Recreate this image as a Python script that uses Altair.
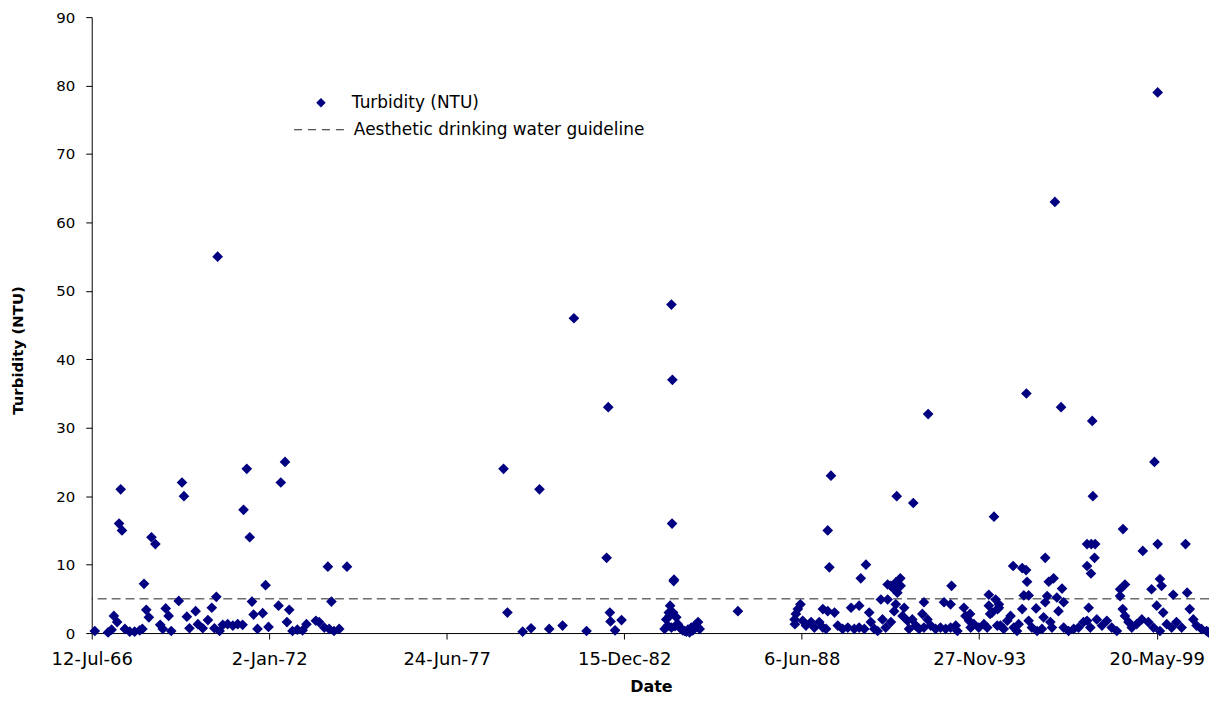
import altair as alt
import pandas as pd

# ---- data (decimal year of sample, turbidity in NTU) ----
year_1966_74 = [
    1966.62, 1967.03, 1967.14, 1967.21, 1967.31,
    1967.37, 1967.42, 1967.46, 1967.55, 1967.70,
    1967.85, 1968.01, 1968.09, 1968.14, 1968.21,
    1968.29, 1968.37, 1968.49, 1968.64, 1968.72,
    1968.81, 1968.90, 1968.98, 1969.21, 1969.31,
    1969.37, 1969.46, 1969.54, 1969.73, 1969.80,
    1969.95, 1970.11, 1970.23, 1970.31, 1970.37,
    1970.41, 1970.47, 1970.57, 1970.72, 1970.88,
    1971.03, 1971.18, 1971.21, 1971.31, 1971.40,
    1971.47, 1971.52, 1971.64, 1971.80, 1971.89,
    1971.98, 1972.29, 1972.36, 1972.49, 1972.55,
    1972.62, 1972.72, 1972.87, 1973.03, 1973.15,
    1973.44, 1973.54, 1973.70, 1973.81, 1973.85,
    1973.92, 1974.00, 1974.16, 1974.40,
]
ntu_1966_74 = [
    0.3, 0.1, 0.5, 2.5, 1.6,
    16, 21, 15, 0.6, 0.2,
    0.2, 0.4, 0.6, 7.2, 3.4,
    2.3, 14, 13, 1.2, 0.6,
    3.6, 2.5, 0.3, 4.7, 22,
    20, 2.4, 0.7, 3.2, 1.3,
    0.7, 1.9, 3.7, 0.7, 5.3,
    55, 0.3, 1.2, 1.3, 1.1,
    1.3, 1.2, 18, 24, 14,
    4.6, 2.7, 0.6, 2.9, 7.0,
    0.9, 4.0, 22, 25, 1.6,
    3.4, 0.3, 0.5, 0.4, 1.3,
    1.8, 1.6, 0.8, 9.7, 0.6,
    4.6, 0.3, 0.6, 9.7,
]

year_1979_86 = [
    1979.23, 1979.35, 1979.82, 1980.08, 1980.34,
    1980.64, 1981.05, 1981.40, 1981.79, 1982.41,
    1982.46, 1982.51, 1982.53, 1982.67, 1982.87,
    1984.20, 1984.25, 1984.30, 1984.33, 1984.35,
    1984.37, 1984.41, 1984.41, 1984.43, 1984.44,
    1984.46, 1984.48, 1984.49, 1984.52, 1984.56,
    1984.61, 1984.66, 1984.71, 1984.76, 1984.82,
    1984.87, 1984.92, 1984.97, 1985.02, 1985.07,
    1985.13, 1985.18, 1985.23, 1985.28, 1986.46,
]
ntu_1979_86 = [
    24, 3.0, 0.2, 0.7, 21,
    0.6, 1.1, 46, 0.3, 11,
    33, 3.0, 1.7, 0.4, 1.9,
    0.6, 2.0, 1.1, 3.0, 2.5,
    4.0, 48, 0.8, 16, 37,
    3.0, 7.6, 7.8, 1.0, 2.3,
    1.3, 0.9, 0.6, 0.4, 0.3,
    0.2, 0.5, 0.1, 0.8, 0.4,
    1.1, 0.9, 1.6, 0.6, 3.2,
]

year_1988_94 = [
    1988.21, 1988.22, 1988.25, 1988.31, 1988.39,
    1988.46, 1988.56, 1988.72, 1988.82, 1988.97,
    1989.08, 1989.08, 1989.18, 1989.23, 1989.23,
    1989.28, 1989.33, 1989.44, 1989.54, 1989.69,
    1989.85, 1989.95, 1990.05, 1990.20, 1990.20,
    1990.25, 1990.36, 1990.41, 1990.51, 1990.56,
    1990.67, 1990.77, 1990.87, 1990.92, 1991.02,
    1991.08, 1991.08, 1991.18, 1991.18, 1991.28,
    1991.28, 1991.33, 1991.33, 1991.36, 1991.38,
    1991.47, 1991.48, 1991.54, 1991.59, 1991.69,
    1991.74, 1991.84, 1991.87, 1991.95, 1992.05,
    1992.15, 1992.20, 1992.20, 1992.31, 1992.33,
    1992.41, 1992.56, 1992.71, 1992.82, 1992.87,
    1993.02, 1993.02, 1993.05, 1993.18, 1993.23,
    1993.43, 1993.48, 1993.59, 1993.62, 1993.64,
    1993.74, 1993.89, 1994.05, 1994.15, 1994.20,
    1994.20, 1994.24, 1994.30, 1994.36, 1994.41,
]
ntu_1988_94 = [
    2.0, 1.3, 2.8, 3.5, 4.2,
    1.8, 1.1, 1.6, 0.8, 1.6,
    0.8, 3.5, 0.6, 15, 3.2,
    9.6, 23, 3.0, 1.1, 0.6,
    0.8, 3.7, 0.6, 4.0, 0.8,
    8.0, 0.6, 10, 3.0, 1.6,
    0.6, 0.3, 4.9, 2.0, 0.8,
    7.1, 4.9, 6.9, 1.6, 6.4,
    3.2, 7.4, 4.2, 20, 5.9,
    8.0, 6.9, 2.5, 3.7, 1.8,
    0.6, 2.0, 19, 1.1, 0.6,
    2.8, 4.5, 0.8, 2.0, 32,
    1.1, 0.6, 0.8, 4.5, 0.6,
    4.2, 0.8, 6.9, 1.1, 0.3,
    3.7, 2.5, 1.8, 2.8, 0.8,
    1.3, 0.8, 1.3, 0.8, 5.6,
    4.0, 2.8, 3.0, 17, 4.9,
]

year_1994_00 = [
    1994.46, 1994.47, 1994.51, 1994.51, 1994.56,
    1994.66, 1994.77, 1994.87, 1994.95, 1994.97,
    1995.07, 1995.12, 1995.23, 1995.23, 1995.28,
    1995.35, 1995.36, 1995.38, 1995.43, 1995.43,
    1995.53, 1995.66, 1995.69, 1995.84, 1995.89,
    1995.94, 1995.94, 1996.00, 1996.05, 1996.10,
    1996.15, 1996.20, 1996.24, 1996.30, 1996.35,
    1996.43, 1996.46, 1996.51, 1996.51, 1996.66,
    1996.82, 1996.97, 1997.12, 1997.23, 1997.23,
    1997.23, 1997.28, 1997.33, 1997.35, 1997.36,
    1997.39, 1997.41, 1997.46, 1997.48, 1997.53,
    1997.69, 1997.84, 1997.99, 1998.15, 1998.25,
    1998.25, 1998.33, 1998.34, 1998.40, 1998.40,
    1998.51, 1998.61, 1998.76, 1998.92, 1998.95,
    1999.12, 1999.22, 1999.28, 1999.31, 1999.38,
    1999.41, 1999.41, 1999.48, 1999.48, 1999.53,
    1999.58, 1999.69, 1999.84, 1999.89, 1999.99,
    2000.15, 2000.27, 2000.32, 2000.40, 2000.51,
    2000.61, 2000.76, 2000.92, 2000.98,
]
ntu_1994_00 = [
    1.1, 3.5, 4.2, 3.7, 1.1,
    0.6, 1.8, 2.5, 9.8, 0.8,
    0.3, 1.3, 9.5, 3.5, 5.5,
    9.2, 35, 7.5, 5.5, 1.8,
    0.8, 3.6, 0.3, 0.6, 2.3,
    11, 4.5, 5.4, 7.5, 1.6,
    0.8, 8.0, 63, 5.2, 3.2,
    33, 6.5, 4.5, 0.8, 0.3,
    0.6, 0.8, 1.6, 9.8, 1.8,
    13, 3.7, 0.8, 8.7, 13,
    31, 20, 11, 13, 2.0,
    1.1, 1.8, 0.8, 0.3, 6.4,
    5.4, 3.5, 15.2, 7.1, 2.5,
    1.6, 0.8, 1.3, 2.0, 12,
    1.6, 6.4, 0.8, 25, 4.0,
    79, 13, 7.9, 0.3, 6.9,
    3.0, 1.3, 0.8, 5.6, 1.6,
    0.8, 13, 5.9, 3.5, 2.0,
    1.1, 0.6, 0.3, 0.1,
]

guideline_ntu = 5
legend_labels = ["Turbidity (NTU)", "Aesthetic drinking water guideline"]
axis_start = "1966-07-12"
axis_end = "2000-12-29"
tick_step_days = 2000

# ---- build the table ----
years = year_1966_74 + year_1979_86 + year_1988_94 + year_1994_00
ntu = ntu_1966_74 + ntu_1979_86 + ntu_1988_94 + ntu_1994_00
assert len(years) == len(ntu)


def to_ms(y):
    yi = int(y)
    ts = pd.Timestamp(year=yi, month=1, day=1) + pd.Timedelta(days=(y - yi) * 365.25)
    return int(ts.value // 10**6)


df = pd.DataFrame({"t": [to_ms(y) for y in years], "ntu": ntu})

start_ms = int(pd.Timestamp(axis_start).value // 10**6)
end_ms = int(pd.Timestamp(axis_end).value // 10**6)
day_ms = 86400000
tick_vals = []
v = start_ms
while v <= end_ms:
    tick_vals.append(v)
    v += tick_step_days * day_ms

W, H = 1121, 618
NAVY = "#000080"
FONT = "DejaVu Sans"

x_enc = alt.X(
    "t:Q",
    scale=alt.Scale(domain=[start_ms, end_ms], nice=False, zero=False),
    axis=alt.Axis(
        values=tick_vals,
        labelExpr="utcFormat(datum.value, '%-d-%b-%y')",
        title="Date",
        titleX=561,
        titleY=54,
        titleBaseline="middle",
        titleAlign="center",
        labelPadding=12,
        labelFontSize=18,
        labelFlush=False,
        labelOverlap=False,
    ),
)
y_enc = alt.Y(
    "ntu:Q",
    scale=alt.Scale(domain=[0, 90], nice=False),
    axis=alt.Axis(
        values=list(range(0, 91, 10)),
        title="Turbidity (NTU)",
        titleX=-74,
        titleY=334,
        titleAngle=-90,
        titleAlign="center",
        titleBaseline="middle",
        titleFontSize=15,
        labelPadding=11,
        labelFontSize=15,
    ),
)

points = alt.Chart(df).mark_point(
    shape="diamond", filled=True, size=115, color=NAVY, opacity=1
).encode(x=x_enc, y=y_enc)

guide = alt.Chart(pd.DataFrame({"g": [guideline_ntu]})).mark_rule(
    color="#222222", strokeWidth=1, strokeDash=[9, 5]
).encode(y=alt.Y("g:Q"))

leg_pt = alt.Chart(pd.DataFrame({"a": [0]})).mark_point(
    shape="diamond", filled=True, size=90, color=NAVY, opacity=1
).encode(x=alt.value(230), y=alt.value(86))
leg_t1 = alt.Chart(pd.DataFrame({"a": [0]})).mark_text(
    align="left", baseline="middle", fontSize=17, font=FONT, color="black",
    text=legend_labels[0],
).encode(x=alt.value(261), y=alt.value(86))
leg_rule = alt.Chart(pd.DataFrame({"a": [0]})).mark_rule(
    color="#222222", strokeWidth=1, strokeDash=[8, 6]
).encode(x=alt.value(203), x2=alt.value(259), y=alt.value(113))
leg_t2 = alt.Chart(pd.DataFrame({"a": [0]})).mark_text(
    align="left", baseline="middle", fontSize=17, font=FONT, color="black",
    text=legend_labels[1],
).encode(x=alt.value(263), y=alt.value(113))

chart = (
    alt.layer(guide, points, leg_pt, leg_t1, leg_rule, leg_t2)
    .properties(
        width=W,
        height=H,
        autosize=alt.AutoSizeParams(type="none"),
        padding={"left": 84, "top": 8, "right": 0, "bottom": 62},
    )
    .configure_view(stroke=None)
    .configure_axis(
        grid=False,
        domainColor="black",
        tickColor="black",
        tickSize=6,
        labelFont=FONT,
        labelFontSize=17,
        labelColor="black",
        titleFont=FONT,
        titleFontSize=16,
        titleFontWeight="bold",
        titleColor="black",
    )
)

chart.save("out.html", embed_options={"renderer": "svg", "actions": False})
